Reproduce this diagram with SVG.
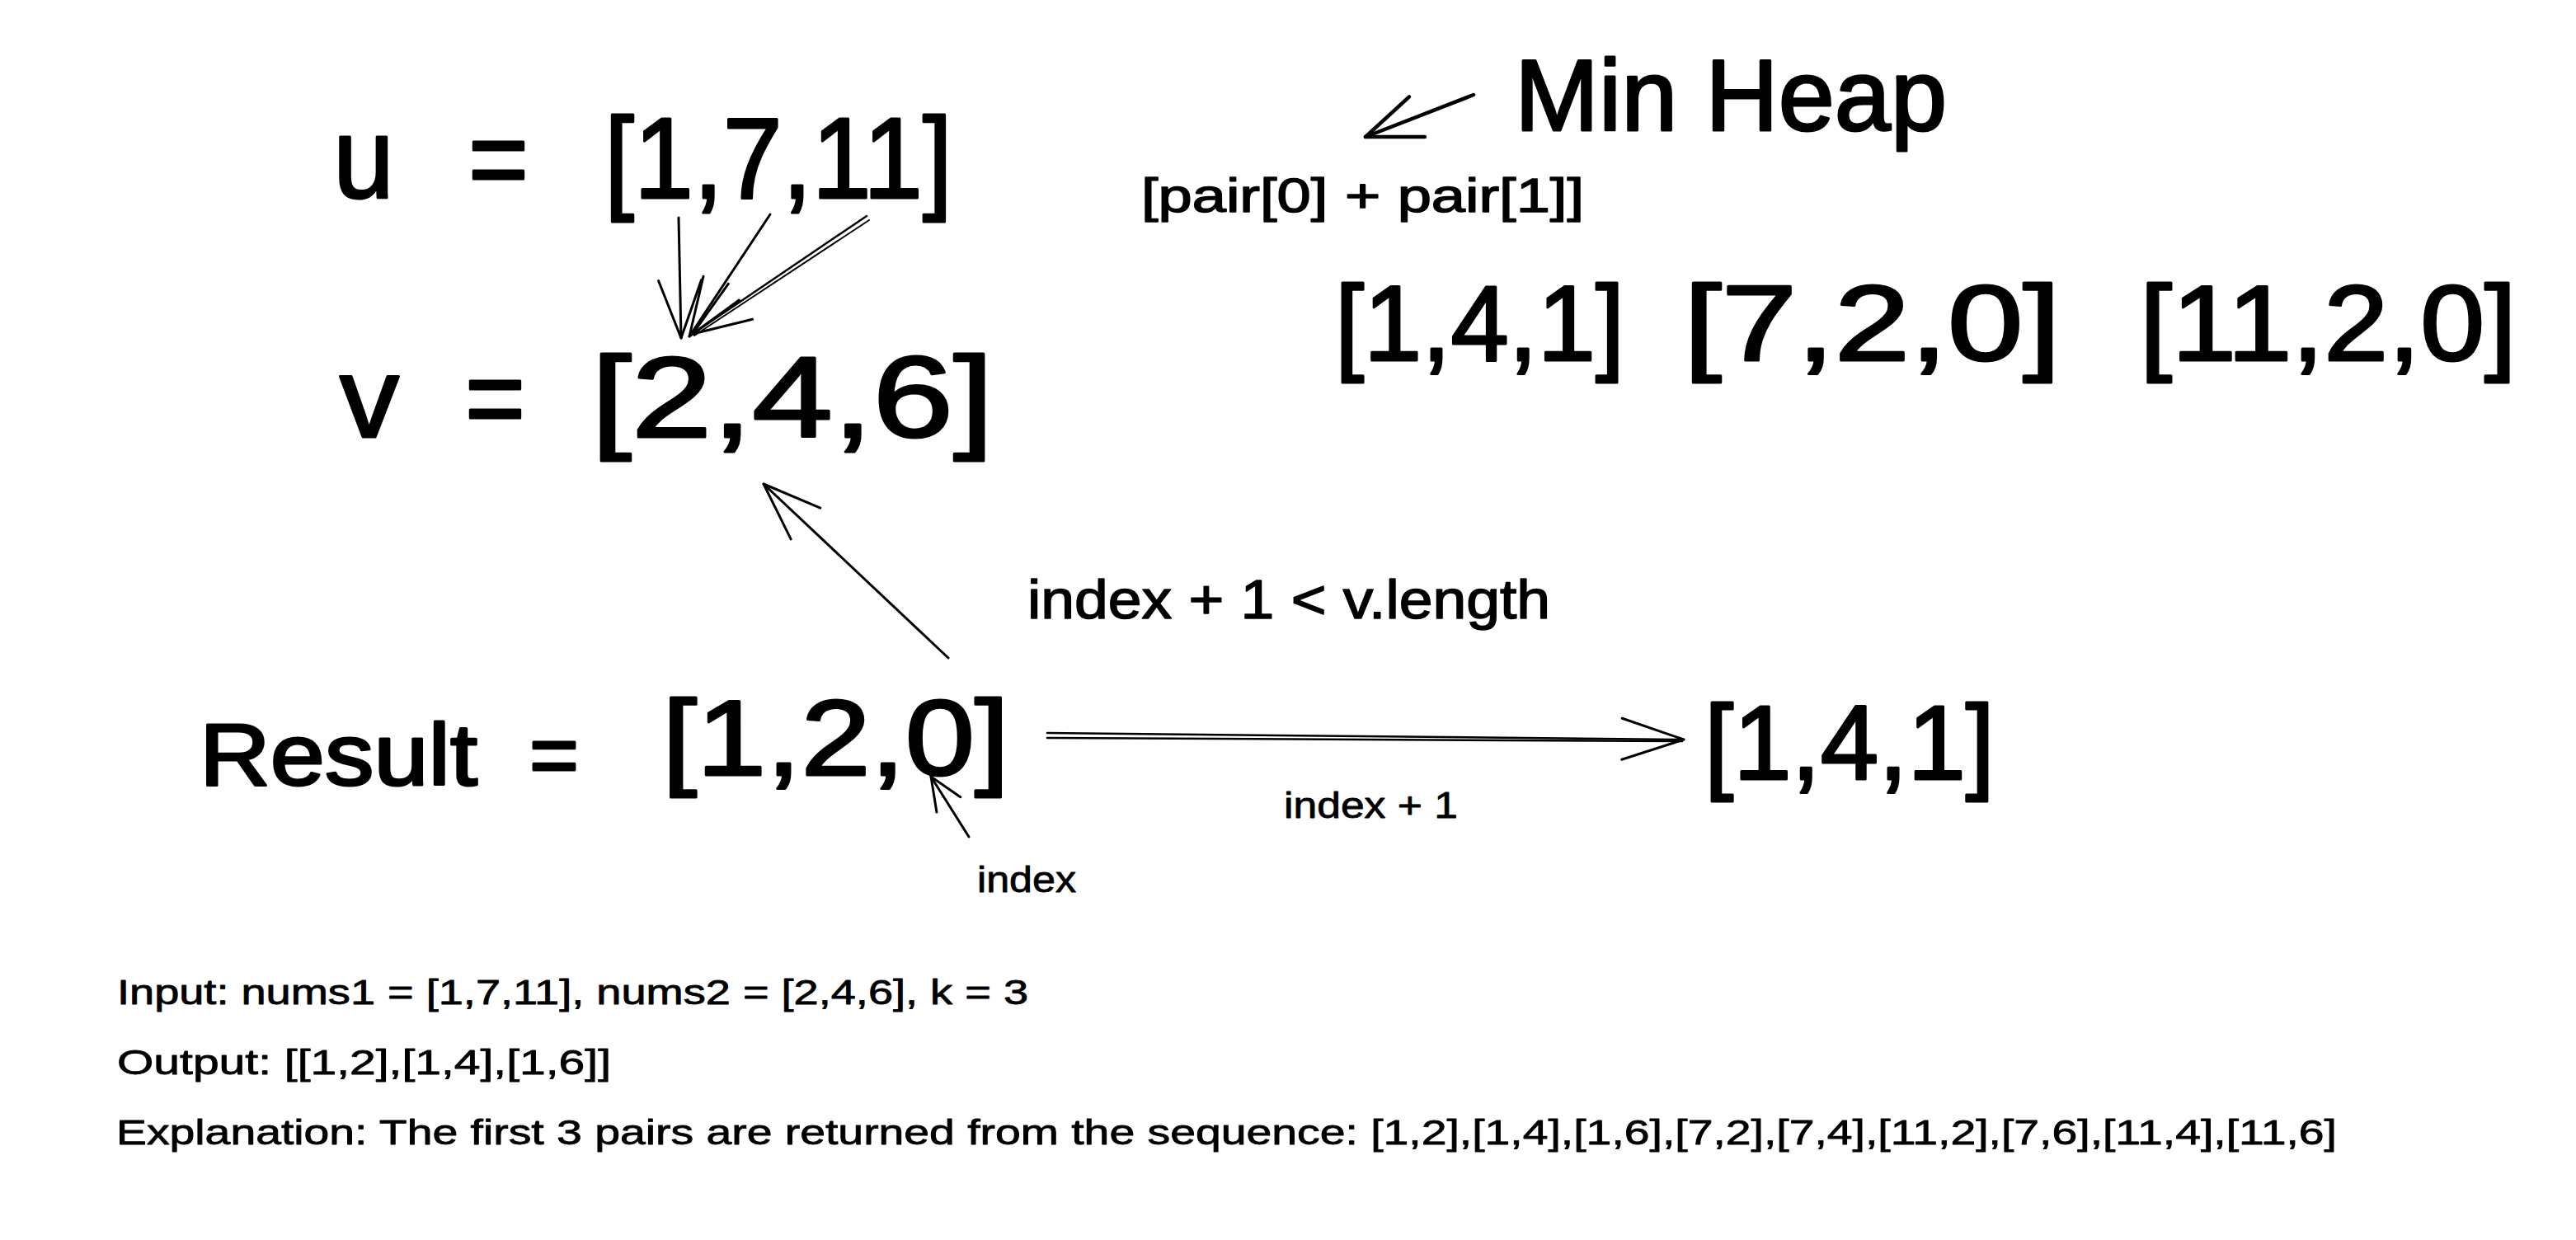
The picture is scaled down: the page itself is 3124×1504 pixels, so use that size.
<svg xmlns="http://www.w3.org/2000/svg" width="3124" height="1504" viewBox="0 0 3124 1504">
  <style>
    .t { font-family: "Liberation Sans", "DejaVu Sans", sans-serif; fill: #000; stroke: #000; stroke-linejoin: round; }
    .big { stroke-width: 3; }
    .mid { stroke-width: 1.5; }
    .sm { stroke-width: 0.8; }
    .ln { fill: none; stroke: #000; stroke-linecap: round; stroke-linejoin: round; }
  </style>
  <defs>
    <marker id="ahL" markerUnits="userSpaceOnUse" markerWidth="100" markerHeight="100" refX="0" refY="0" orient="auto" overflow="visible">
      <path d="M -70 -26 L 0 0 L -70 26" fill="none" stroke="#000" stroke-width="3" stroke-linecap="round" stroke-linejoin="round"/>
    </marker>
    <marker id="ahH" markerUnits="userSpaceOnUse" markerWidth="100" markerHeight="100" refX="0" refY="0" orient="auto" overflow="visible">
      <path d="M -67 -26 L 0 0 L -67 26" fill="none" stroke="#000" stroke-width="4.5" stroke-linecap="round" stroke-linejoin="round"/>
    </marker>
    <marker id="ahS" markerUnits="userSpaceOnUse" markerWidth="60" markerHeight="60" refX="0" refY="0" orient="auto" overflow="visible">
      <path d="M -40 -17 L 0 0 L -40 17" fill="none" stroke="#000" stroke-width="3" stroke-linecap="round" stroke-linejoin="round"/>
    </marker>
    <marker id="ahD" markerUnits="userSpaceOnUse" markerWidth="100" markerHeight="100" refX="0" refY="0" orient="auto" overflow="visible">
      <path d="M -75 -25 L 0 0 L -75 25" fill="none" stroke="#000" stroke-width="3" stroke-linecap="round" stroke-linejoin="round"/>
    </marker>
  </defs>
  <rect width="3124" height="1504" fill="#ffffff"/>

  <g id="node-u"><text class="t big" y="240" font-size="140"><tspan x="404" textLength="74" lengthAdjust="spacingAndGlyphs">u</tspan> <tspan x="568" textLength="73" lengthAdjust="spacingAndGlyphs">=</tspan> <tspan x="733" textLength="422" lengthAdjust="spacingAndGlyphs">[1,7,11]</tspan></text></g>
  <g id="node-v"><text class="t big" y="530" font-size="140"><tspan x="412" textLength="72" lengthAdjust="spacingAndGlyphs">v</tspan> <tspan x="564" textLength="73" lengthAdjust="spacingAndGlyphs">=</tspan> <tspan x="717" textLength="488" lengthAdjust="spacingAndGlyphs">[2,4,6]</tspan></text></g>
  <g id="node-minheap"><text class="t big" x="1837" y="158" font-size="123" textLength="524" lengthAdjust="spacingAndGlyphs">Min Heap</text></g>
  <g id="node-pairsum"><text class="t mid" x="1384" y="257" font-size="58" textLength="537" lengthAdjust="spacingAndGlyphs">[pair[0] + pair[1]]</text></g>
  <g id="node-heap1"><text class="t big" x="1619" y="437" font-size="130" textLength="351" lengthAdjust="spacingAndGlyphs">[1,4,1]</text></g>
  <g id="node-heap2"><text class="t big" x="2042" y="437" font-size="130" textLength="457" lengthAdjust="spacingAndGlyphs">[7,2,0]</text></g>
  <g id="node-heap3"><text class="t big" x="2595" y="437" font-size="130" textLength="457" lengthAdjust="spacingAndGlyphs">[11,2,0]</text></g>
  <g id="node-result-label"><text class="t big" y="952" font-size="105"><tspan x="242" textLength="337" lengthAdjust="spacingAndGlyphs">Result</tspan> <tspan x="642" textLength="60" lengthAdjust="spacingAndGlyphs">=</tspan></text></g>
  <g id="node-result"><text class="t big" x="803" y="940" font-size="130" textLength="421" lengthAdjust="spacingAndGlyphs">[1,2,0]</text></g>
  <g id="node-next"><text class="t big" x="2067" y="945" font-size="128" textLength="352" lengthAdjust="spacingAndGlyphs">[1,4,1]</text></g>
  <g id="node-cond"><text class="t mid" x="1246" y="750" font-size="66" textLength="634" lengthAdjust="spacingAndGlyphs">index + 1 &lt; v.length</text></g>
  <g id="node-idx1"><text class="t sm" x="1557" y="992" font-size="44" textLength="211" lengthAdjust="spacingAndGlyphs">index + 1</text></g>
  <g id="node-idx"><text class="t sm" x="1185" y="1082" font-size="44" textLength="120" lengthAdjust="spacingAndGlyphs">index</text></g>
  <g id="node-input"><text class="t sm" x="142" y="1218" font-size="42" textLength="1105" lengthAdjust="spacingAndGlyphs">Input: nums1 = [1,7,11], nums2 = [2,4,6], k = 3</text></g>
  <g id="node-output"><text class="t sm" x="142" y="1303" font-size="42" textLength="599" lengthAdjust="spacingAndGlyphs">Output: [[1,2],[1,4],[1,6]]</text></g>
  <g id="node-explanation"><text class="t sm" x="141" y="1388" font-size="42" textLength="2693" lengthAdjust="spacingAndGlyphs">Explanation: The first 3 pairs are returned from the sequence: [1,2],[1,4],[1,6],[7,2],[7,4],[11,2],[7,6],[11,4],[11,6]</text></g>

  <g id="connectors">
    <path class="ln" stroke-width="3" d="M 823 264 L 826 410" marker-end="url(#ahL)"/>
    <path class="ln" stroke-width="3" d="M 934 260 L 836 408" marker-end="url(#ahL)"/>
    <path class="ln" stroke-width="2.5" d="M 1051 262 L 840 405" marker-end="url(#ahL)"/>
    <path class="ln" stroke-width="2" d="M 1054 267 L 842 407"/>
    <path class="ln" stroke-width="4.5" d="M 1787 115 L 1656 166" marker-end="url(#ahH)"/>
    <path class="ln" stroke-width="3" d="M 1150 798 L 926 587" marker-end="url(#ahL)"/>
    <path class="ln" stroke-width="3" d="M 1175 1015 L 1129 942" marker-end="url(#ahS)"/>
    <path class="ln" stroke-width="2.5" d="M 1270 889 L 2042 897" marker-end="url(#ahD)"/>
    <path class="ln" stroke-width="2.5" d="M 1270 895 L 2040 899"/>
  </g>
</svg>
